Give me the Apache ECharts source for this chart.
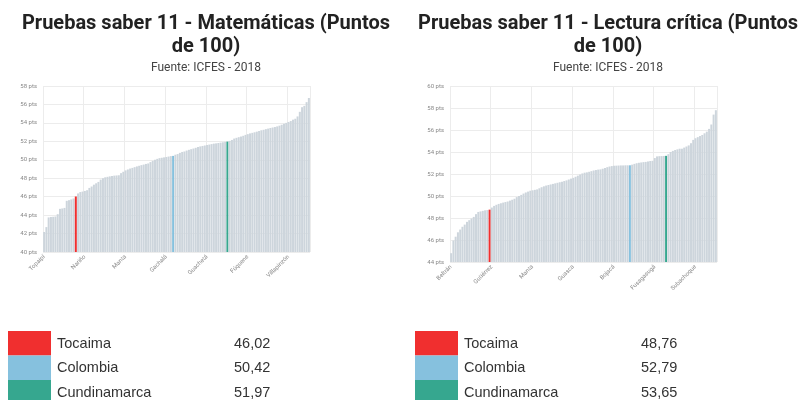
<!DOCTYPE html>
<html>
<head>
<meta charset="utf-8">
<script src="https://cdn.jsdelivr.net/npm/echarts@6/dist/echarts.min.js"></script>
<style>
  html, body { margin: 0; padding: 0; background: #fff; }
  #chart { width: 806px; height: 400px; }
</style>
</head>
<body>
<div id="chart"></div>
<script>
// puntajes ordenados por municipio (Cundinamarca + Colombia + depto)
const valsMat = [
  42.17, 42.70, 43.75, 43.80, 43.82, 43.85, 44.10, 44.68, 44.72, 44.78,
  45.55, 45.62, 45.70, 45.80, 46.02, 46.35, 46.50, 46.55, 46.62, 46.70,
  46.95, 47.10, 47.30, 47.45, 47.60, 47.85, 48.00, 48.10, 48.15, 48.20,
  48.24, 48.28, 48.30, 48.32, 48.55, 48.70, 48.85, 48.95, 49.05, 49.12,
  49.20, 49.28, 49.35, 49.42, 49.48, 49.55, 49.60, 49.75, 49.88, 50.00,
  50.10, 50.18, 50.22, 50.26, 50.30, 50.35, 50.40, 50.42, 50.55, 50.62,
  50.75, 50.85, 50.90, 51.00, 51.08, 51.15, 51.22, 51.30, 51.38, 51.45,
  51.50, 51.55, 51.60, 51.65, 51.70, 51.75, 51.78, 51.82, 51.86, 51.90,
  51.94, 51.97, 52.05, 52.15, 52.30, 52.38, 52.45, 52.52, 52.60, 52.70,
  52.78, 52.86, 52.92, 52.98, 53.05, 53.12, 53.20, 53.25, 53.32, 53.38,
  53.45, 53.50, 53.55, 53.62, 53.70, 53.80, 53.90, 54.00, 54.10, 54.20,
  54.35, 54.45, 54.70, 55.20, 55.70, 55.85, 56.25, 56.70
];
const valsLec = [
  44.80, 45.95, 46.30, 46.70, 46.95, 47.20, 47.40, 47.65, 47.80, 47.95,
  48.10, 48.35, 48.55, 48.60, 48.65, 48.70, 48.72, 48.76, 48.95, 49.10,
  49.20, 49.28, 49.34, 49.40, 49.45, 49.50, 49.58, 49.66, 49.75, 49.90,
  50.00, 50.10, 50.22, 50.32, 50.40, 50.48, 50.52, 50.56, 50.60, 50.70,
  50.80, 50.88, 50.95, 51.00, 51.05, 51.10, 51.15, 51.20, 51.25, 51.30,
  51.36, 51.42, 51.50, 51.58, 51.65, 51.75, 51.85, 51.95, 52.05, 52.12,
  52.15, 52.20, 52.26, 52.32, 52.36, 52.40, 52.42, 52.48, 52.55, 52.62,
  52.68, 52.72, 52.75, 52.76, 52.77, 52.78, 52.78, 52.79, 52.79, 52.79,
  52.85, 52.92, 52.98, 53.02, 53.05, 53.08, 53.10, 53.14, 53.18, 53.20,
  53.45, 53.60, 53.62, 53.63, 53.64, 53.65, 53.80, 54.00, 54.10, 54.18,
  54.24, 54.30, 54.30, 54.40, 54.50, 54.60, 54.80, 55.10, 55.25, 55.35,
  55.45, 55.55, 55.70, 55.85, 56.10, 56.50, 57.40, 57.80
];
// posicion de las barras destacadas
const idxMat = [14, 57, 81];
const idxLec = [17, 79, 95];

const ticksMat = ['Topaipí', 'Nariño', 'Manta', 'Gachalá', 'Guachetá', 'Fúquene', 'Villapinzón'];
const ticksLec = ['Beltrán', 'Gutiérrez', 'Manta', 'Guasca', 'Bojacá', 'Fusagasugá', 'Subachoque'];

const destacados = ['Tocaima', 'Colombia', 'Cundinamarca'];
const colores = ['#f02f2f', '#86c1de', '#36a78f'];
const tablaMat = ['46,02', '50,42', '51,97'];
const tablaLec = ['48,76', '52,79', '53,65'];

const gris = '#cdd5dc';
const font = 'Roboto, "Noto Sans", sans-serif';

var myChart = echarts.init(document.getElementById('chart'));

function barras(vals, idx) {
  return vals.map((v, i) => {
    let k = idx.indexOf(i);
    return { value: v, itemStyle: { color: k >= 0 ? colores[k] : gris } };
  });
}

function ejeX(n, ticks, gi) {
  return {
    type: 'category',
    gridIndex: gi,
    data: Array.from({ length: n }, (_, i) => String(i)),
    axisLine: { show: false },
    axisTick: { show: false },
    axisLabel: {
      interval: 17, rotate: 45, fontSize: 6, color: '#888', margin: 4, fontFamily: font,
      formatter: (v, i) => ticks[Math.round(i / 18)] || ''
    },
    splitLine: { show: true, interval: 17, lineStyle: { color: '#ececec', width: 1 } }
  };
}

function ejeY(min, max, gi) {
  return {
    type: 'value',
    gridIndex: gi, min: min, max: max, interval: 2,
    axisLine: { show: false },
    axisTick: { show: false },
    axisLabel: { fontSize: 6, color: '#888', margin: 6, formatter: '{value} pts', fontFamily: font },
    splitLine: { lineStyle: { color: '#ececec', width: 1 } }
  };
}

function tabla(x0, valores) {
  let els = [];
  destacados.forEach((nombre, i) => {
    let y = 331 + i * 24.5;
    els.push({ type: 'rect', shape: { x: x0, y: y, width: 43, height: 24.5 }, style: { fill: colores[i] } });
    els.push({ type: 'text', x: x0 + 49, y: y + 12.5, style: { text: nombre, fontSize: 14.5, fill: '#333', font: '14.5px ' + font, verticalAlign: 'middle' } });
    els.push({ type: 'text', x: x0 + 226, y: y + 12.5, style: { text: valores[i], fontSize: 14.5, fill: '#333', font: '14.5px ' + font, verticalAlign: 'middle' } });
  });
  return els;
}

function titulo(texto, cx) {
  return {
    text: texto,
    subtext: 'Fuente: ICFES - 2018',
    left: cx, top: 12, padding: 0, textAlign: 'center', itemGap: 3,
    textStyle: { fontSize: 20, fontWeight: 'bold', color: '#222', lineHeight: 23, fontFamily: font },
    subtextStyle: { fontSize: 12, color: '#444', lineHeight: 14, fontFamily: font }
  };
}

var option = {
  animation: false,
  title: [
    titulo('Pruebas saber 11 - Matemáticas (Puntos\nde 100)', 206),
    titulo('Pruebas saber 11 - Lectura crítica (Puntos\nde 100)', 608)
  ],
  grid: [
    { left: 43, top: 86, width: 267, height: 166 },
    { left: 450, top: 86, width: 267, height: 176 }
  ],
  xAxis: [ejeX(valsMat.length, ticksMat, 0), ejeX(valsLec.length, ticksLec, 1)],
  yAxis: [ejeY(40, 58, 0), ejeY(44, 60, 1)],
  series: [
    { type: 'bar', xAxisIndex: 0, yAxisIndex: 0, data: barras(valsMat, idxMat), barCategoryGap: '12%' },
    { type: 'bar', xAxisIndex: 1, yAxisIndex: 1, data: barras(valsLec, idxLec), barCategoryGap: '12%' }
  ],
  graphic: tabla(8, tablaMat).concat(tabla(415, tablaLec))
};
option && myChart.setOption(option);
</script>
</body>
</html>
